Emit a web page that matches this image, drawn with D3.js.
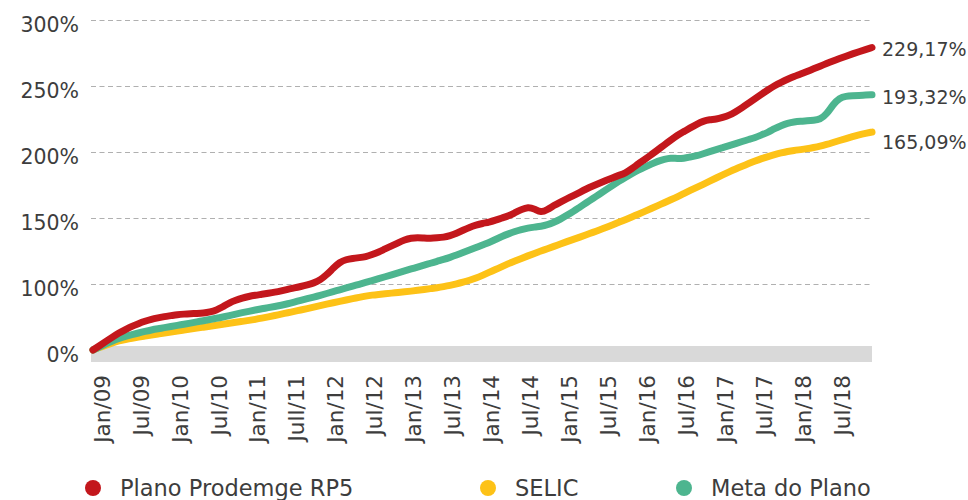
<!DOCTYPE html>
<html>
<head>
<meta charset="utf-8">
<script src="https://cdn.jsdelivr.net/npm/d3@7"></script>
<style>
  html, body { margin: 0; padding: 0; background: #fff; }
  svg { display: block; font-family: "DejaVu Sans", sans-serif; }
</style>
</head>
<body>
<svg id="chart" width="968" height="500"></svg>
<script>
// Monthly observations, Dec/08 through Dec/18 (121 months, cumulative return in %)
const months = d3.timeMonth.range(new Date(2008, 11, 1), new Date(2019, 0, 1));

const tickLabels = [
  "Jan/09", "Jul/09", "Jan/10", "Jul/10", "Jan/11", "Jull/11", "Jan/12", "Jul/12",
  "Jan/13", "Jul/13", "Jan/14", "Jul/14", "Jan/15", "Jul/15", "Jan/16", "Jul/16",
  "Jan/17", "Jul/17", "Jan/18", "Jul/18"
];

const yTickValues = [0, 50, 100, 150, 200, 250];
const yTickLabels = ["0%", "100%", "150%", "200%", "250%", "300%"];

const prodemge = [
  0, 3.2, 6.5, 9.8, 13, 15.5, 18, 20, 21.8, 23.3,
  24.3, 25.3, 26, 26.8, 27.2, 27.5, 27.7, 28, 28.8, 30.2,
  32.6, 35.8, 37.7, 39.3, 40.6, 41.5, 42.2, 43, 43.8, 44.8,
  46, 47, 48.1, 49.3, 50.7, 53, 57, 62, 66.5, 68.6,
  69.4, 70, 70.6, 72.3, 74.2, 76.6, 78.8, 81.2, 83.5, 84.8,
  85.2, 84.8, 84.6, 85, 85.4, 86.6, 88.4, 90.7, 93, 94.6,
  95.9, 96.8, 98.3, 100, 101.5, 104, 106.4, 108.3, 107, 104,
  106.3, 109.5, 112.1, 114.6, 117, 119.5, 122, 124.2, 126.3, 128.4,
  130.4, 132.3, 134, 137.3, 141, 144.4, 148, 151.6, 155.4, 159,
  162.6, 165.4, 168.3, 171, 173.4, 174.5, 174.8, 176.2, 177.7, 180.5,
  183.6, 187, 190.4, 193.8, 197.2, 200.3, 202.8, 205.1, 207.2, 209,
  211, 213, 215, 217, 219, 220.8, 222.6, 224.3, 226, 227.6,
  229.17
];

const selic = [
  0, 1.9, 3.7, 5.4, 7.1, 8, 8.9, 9.8, 10.6, 11.4,
  12.1, 12.8, 13.6, 14.4, 15.1, 15.8, 16.6, 17.3, 18, 18.7,
  19.5, 20.2, 21, 21.7, 22.4, 23.2, 24.1, 25.1, 26.1, 27.2,
  28.2, 29.3, 30.3, 31.4, 32.5, 33.6, 34.7, 35.8, 36.9, 37.9,
  38.9, 39.9, 40.9, 41.6, 42.1, 42.6, 43.1, 43.6, 44.1, 44.6,
  45.2, 45.8, 46.5, 47.2, 48, 48.9, 50, 51.3, 52.8, 54.4,
  56.5, 58.8, 60.9, 63.2, 65.5, 67.5, 69.4, 71.3, 73.2, 75,
  76.7, 78.5, 80.3, 82.1, 83.8, 85.5, 87.3, 89.1, 90.9, 92.7,
  94.7, 96.7, 98.7, 100.8, 102.9, 105, 107.2, 109.4, 111.6, 113.8,
  116, 118.5, 120.9, 123.2, 125.5, 127.9, 130.3, 132.7, 135, 137.2,
  139.2, 141.2, 143.2, 145, 146.6, 148, 149.3, 150.4, 151.2, 151.8,
  152.5, 153.4, 154.4, 155.7, 157.2, 158.7, 160.2, 161.6, 163, 164.1,
  165.09
];

const metaPlano = [
  0, 2.3, 4.6, 6.8, 8.8, 10.3, 11.6, 12.9, 14.1, 15.2,
  16.1, 16.9, 17.8, 18.7, 19.5, 20.4, 21.3, 22.2, 23.1, 24,
  25, 26.1, 27.2, 28.3, 29.3, 30.3, 31.2, 32.1, 33, 33.9,
  35, 36.3, 37.6, 38.9, 40.1, 41.4, 42.8, 44.2, 45.6, 47,
  48.4, 49.8, 51.2, 52.6, 54, 55.5, 57, 58.4, 59.9, 61.4,
  62.8, 64.3, 65.7, 67.2, 68.6, 70.2, 71.9, 73.8, 75.7, 77.6,
  79.6, 81.4, 83.7, 86, 88, 89.8, 91.3, 92.4, 93.1, 93.7,
  94.8, 96.7, 99.1, 102, 105, 108.3, 111.5, 114.8, 118, 121.3,
  124.6, 127.8, 130.8, 133.6, 136.3, 138.6, 140.8, 143, 144.5, 145.5,
  145, 145.2, 146.2, 147.1, 148.7, 150.3, 151.8, 153.3, 154.8, 156.4,
  158, 159.5, 160.8, 163, 165, 167.8, 170, 171.8, 172.8, 173.3,
  173.6, 174, 174.6, 178.5, 186, 191, 192.3, 192.6, 192.9, 193.1,
  193.32
];

const seriesNames = ["Plano Prodemge RP5", "SELIC", "Meta do Plano"];
const seriesValues = [prodemge, selic, metaPlano];
const seriesColors = ["#c3171c", "#fdc217", "#4db58f"];

// ---- layout ----
const svg = d3.select("#chart");
const textColor = "#3d3d3d";
const left = 93, right = 872;

const x = d3.scaleLinear().domain([0, months.length - 1]).range([left, right]);
const y = d3.scaleLinear().domain([0, 250]).range([350, 20]);

const ptBR = d3.formatLocale({ decimal: ",", thousands: ".", grouping: [3], currency: ["R$", ""] });
const fmtPct = v => ptBR.format(".2f")(v) + "%";

// grey base band under the zero line
svg.append("rect")
  .attr("x", left - 2).attr("y", y(0) - 4)
  .attr("width", right - left + 2).attr("height", 16)
  .attr("fill", "#d9d9d9");

// y axis: dashed gridlines + labels
const yAxis = d3.axisLeft(y)
  .tickValues(yTickValues)
  .tickSize(-(right - left + 2))
  .tickPadding(12)
  .tickFormat((d, i) => yTickLabels[i]);

const gy = svg.append("g").attr("transform", `translate(${left - 2},0)`).call(yAxis);
gy.select(".domain").remove();
gy.selectAll(".tick line")
  .attr("stroke", "#b0b0b0")
  .attr("stroke-width", 1.2)
  .attr("stroke-dasharray", "5,3.5")
  .filter(d => d === 0).remove();
gy.selectAll(".tick text")
  .attr("fill", textColor)
  .attr("font-size", 20.5)
  .attr("font-family", "DejaVu Sans, sans-serif")
  .attr("dy", "0.55em");

// x axis: month labels every six months, rotated
const tickIdx = tickLabels.map((_, k) => 1 + 6 * k);
const xAxis = d3.axisBottom(x)
  .tickValues(tickIdx)
  .tickSize(0)
  .tickFormat((d, i) => tickLabels[i]);

const gx = svg.append("g").attr("transform", `translate(0,${y(0) + 12})`).call(xAxis);
gx.select(".domain").remove();
gx.selectAll(".tick text")
  .attr("fill", textColor)
  .attr("font-size", 21.5)
  .attr("font-family", "DejaVu Sans, sans-serif")
  .attr("transform", "rotate(-90)")
  .attr("text-anchor", "end")
  .attr("x", -13)
  .attr("y", 0)
  .attr("dy", "0.45em");

// series lines
const line = d3.line()
  .x((d, i) => x(i))
  .y(d => y(d))
  .curve(d3.curveBasis);

const drawOrder = [1, 2, 0];
drawOrder.forEach(s => {
  svg.append("path")
    .datum(seriesValues[s])
    .attr("fill", "none")
    .attr("stroke", seriesColors[s])
    .attr("stroke-width", 7)
    .attr("stroke-linecap", "round")
    .attr("stroke-linejoin", "round")
    .attr("d", line);
});

// end-of-line value labels
const labelShift = [2, 10, 2];
seriesValues.forEach((vals, s) => {
  const last = vals[vals.length - 1];
  svg.append("text")
    .attr("x", right + 10)
    .attr("y", y(last) + labelShift[s])
    .attr("dy", "0.36em")
    .attr("fill", textColor)
    .attr("font-size", 19)
    .text(fmtPct(last));
});

// legend
const legendX = [93, 488, 684];
const legend = svg.append("g");
seriesNames.forEach((name, s) => {
  const g = legend.append("g").attr("transform", `translate(${legendX[s]},488)`);
  g.append("circle").attr("r", 8).attr("fill", seriesColors[s]);
  g.append("text")
    .attr("x", 27).attr("y", 8)
    .attr("fill", textColor)
    .attr("font-size", 22.5)
    .text(name);
});
</script>
</body>
</html>
